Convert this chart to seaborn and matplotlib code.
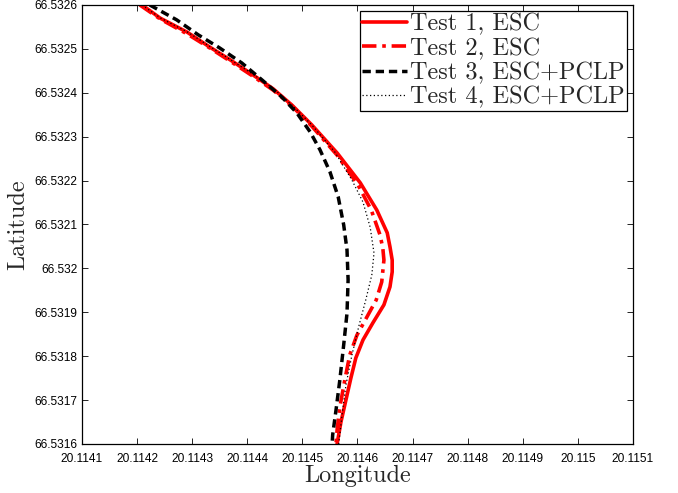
import matplotlib
matplotlib.use("Agg")
import matplotlib.pyplot as plt
import seaborn as sns
import pandas as pd
from matplotlib.ticker import FixedLocator, FixedFormatter

# Vehicle trajectories (longitude / latitude) for the four test runs
test1_lon = [20.114209, 20.114242, 20.114291, 20.114332, 20.114369, 20.114410, 20.114447, 20.114481,
             20.114517, 20.114563, 20.114605, 20.114635, 20.114654, 20.114659, 20.114663, 20.114663,
             20.114659, 20.114648, 20.114628, 20.114610, 20.114597, 20.114588, 20.114579, 20.114570,
             20.114563]
test1_lat = [66.532600, 66.532570, 66.532538, 66.532504, 66.532475, 66.532441, 66.532409, 66.532372,
             66.532327, 66.532263, 66.532195, 66.532133, 66.532081, 66.532049, 66.532019, 66.531992,
             66.531958, 66.531917, 66.531876, 66.531837, 66.531796, 66.531750, 66.531700, 66.531650,
             66.531600]

test2_lon = [20.114205, 20.114242, 20.114291, 20.114332, 20.114369, 20.114410, 20.114447, 20.114481,
             20.114517, 20.114563, 20.114601, 20.114625, 20.114641, 20.114646, 20.114648, 20.114644,
             20.114634, 20.114617, 20.114599, 20.114586, 20.114577, 20.114568, 20.114563, 20.114561]
test2_lat = [66.532600, 66.532568, 66.532534, 66.532502, 66.532472, 66.532438, 66.532406, 66.532370,
             66.532324, 66.532258, 66.532190, 66.532133, 66.532076, 66.532046, 66.532019, 66.531969,
             66.531928, 66.531889, 66.531848, 66.531803, 66.531746, 66.531684, 66.531632, 66.531600]

test3_lon = [20.114223, 20.114272, 20.114311, 20.114350, 20.114390, 20.114427, 20.114463, 20.114490,
             20.114514, 20.114532, 20.114550, 20.114565, 20.114575, 20.114581, 20.114583, 20.114581,
             20.114575, 20.114568, 20.114561, 20.114555, 20.114554]
test3_lat = [66.532600, 66.532566, 66.532532, 66.532502, 66.532468, 66.532429, 66.532390, 66.532354,
             66.532311, 66.532270, 66.532220, 66.532163, 66.532099, 66.532042, 66.531974, 66.531898,
             66.531826, 66.531746, 66.531677, 66.531621, 66.531600]

test4_lon = [20.114209, 20.114243, 20.114292, 20.114334, 20.114370, 20.114412, 20.114448, 20.114481,
             20.114517, 20.114559, 20.114590, 20.114610, 20.114623, 20.114630, 20.114626, 20.114615,
             20.114603, 20.114590, 20.114579, 20.114572, 20.114566]
test4_lat = [66.532600, 66.532570, 66.532538, 66.532504, 66.532475, 66.532441, 66.532409, 66.532372,
             66.532327, 66.532265, 66.532201, 66.532151, 66.532094, 66.532035, 66.531985, 66.531928,
             66.531871, 66.531803, 66.531734, 66.531666, 66.531600]

series_names = ["Test 1, ESC", "Test 2, ESC", "Test 3, ESC+PCLP", "Test 4, ESC+PCLP"]

x_ticks = [20.1141, 20.1142, 20.1143, 20.1144, 20.1145, 20.1146, 20.1147, 20.1148, 20.1149, 20.1150, 20.1151]
x_tick_labels = ["20.1141", "20.1142", "20.1143", "20.1144", "20.1145", "20.1146",
                 "20.1147", "20.1148", "20.1149", "20.115", "20.1151"]
y_ticks = [66.5316, 66.5317, 66.5318, 66.5319, 66.5320, 66.5321, 66.5322, 66.5323, 66.5324, 66.5325, 66.5326]
y_tick_labels = ["66.5316", "66.5317", "66.5318", "66.5319", "66.532", "66.5321",
                 "66.5322", "66.5323", "66.5324", "66.5325", "66.5326"]

sns.set_theme(style="white")
plt.rcParams["font.family"] = ["Liberation Sans", "DejaVu Sans"]

fig = plt.figure(figsize=(6.78, 4.93), dpi=100)
ax = fig.add_axes([0.1209, 0.0994, 0.8127, 0.8905])

styles = [
    dict(color="#ff0000", linewidth=2.6, linestyle="-"),
    dict(color="#ff0000", linewidth=2.6, linestyle=(0, (4, 1.6, 1, 1.6))),
    dict(color="black", linewidth=2.5, linestyle=(0, (2.4, 1.4))),
    dict(color="black", linewidth=0.9, linestyle=(0, (1, 2))),
]

frames = []
for name, lon, lat in zip(series_names,
                          [test1_lon, test2_lon, test3_lon, test4_lon],
                          [test1_lat, test2_lat, test3_lat, test4_lat]):
    frames.append(pd.DataFrame({"lon": lon, "lat": lat, "run": name}))

for df, st in zip(frames, styles):
    sns.lineplot(data=df, x="lon", y="lat", sort=False, estimator=None, ax=ax,
                 label=df["run"].iloc[0], **st)

ax.set_xlim(20.1141, 20.1151)
ax.set_ylim(66.5316, 66.5326)
ax.xaxis.set_major_locator(FixedLocator(x_ticks))
ax.xaxis.set_major_formatter(FixedFormatter(x_tick_labels))
ax.yaxis.set_major_locator(FixedLocator(y_ticks))
ax.yaxis.set_major_formatter(FixedFormatter(y_tick_labels))

ax.tick_params(axis="both", direction="in", length=4, width=0.6, colors="black",
               labelsize=8.6, top=True, right=True, bottom=True, left=True)
ax.tick_params(axis="x", pad=6.3)
ax.tick_params(axis="y", pad=3)
for sp in ax.spines.values():
    sp.set_visible(True)
    sp.set_color("black")
    sp.set_linewidth(0.9)

ax.set_xlabel("Longitude", family="cmr10", fontsize=17.5, labelpad=0)
ax.set_ylabel("Latitude", family="cmr10", fontsize=17.5, labelpad=4)

leg = ax.legend(loc="upper right", prop={"family": "cmr10", "size": 17.5},
                frameon=True, fancybox=False, edgecolor="black", framealpha=1,
                borderaxespad=0.25, borderpad=0.1, labelspacing=0.08,
                handlelength=1.85, handletextpad=0.12)
leg.get_frame().set_linewidth(0.9)
ax.grid(False)

fig.savefig("out.png", dpi=100)
